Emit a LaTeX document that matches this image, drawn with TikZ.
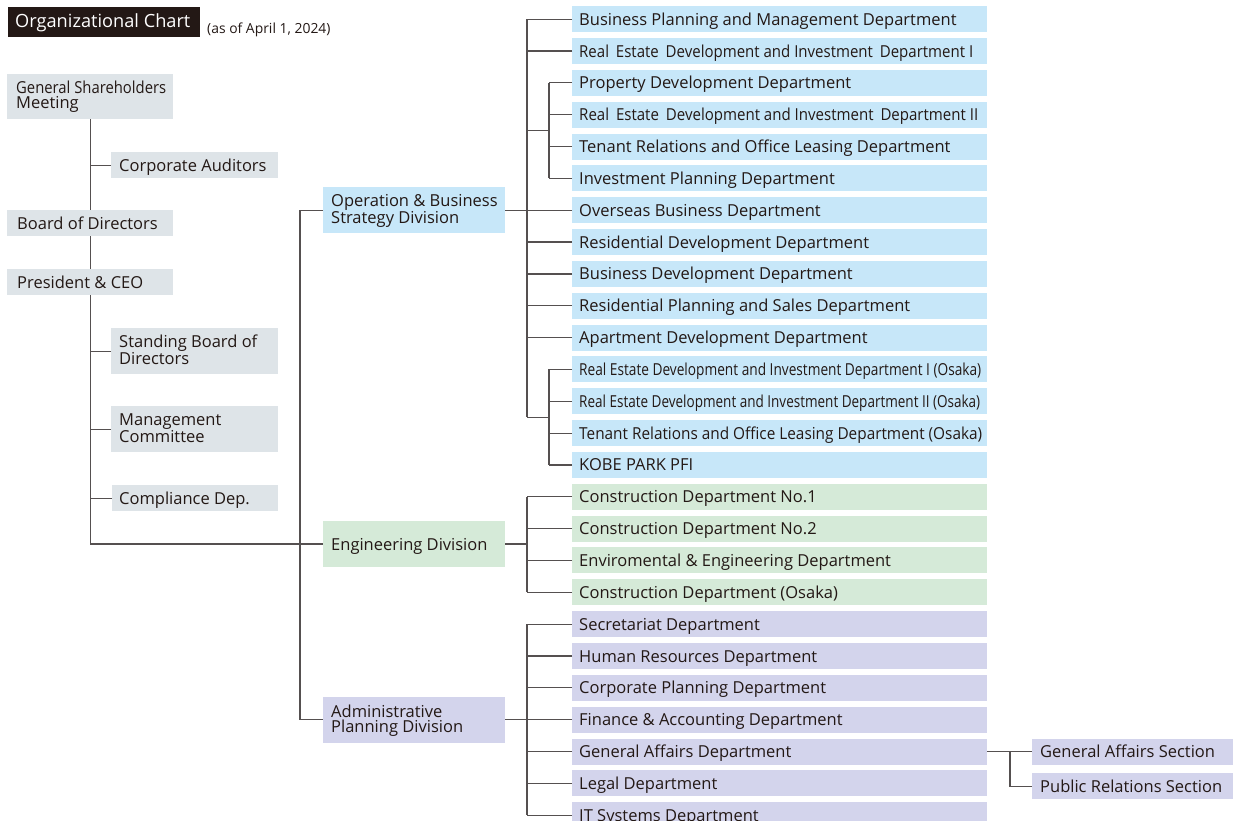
\documentclass[tikz,border=0pt]{standalone}
\usepackage{fontspec}
\setmainfont{Open Sans}
\usepackage{graphicx}
\usetikzlibrary{calc}
\definecolor{boxgray}{RGB}{222,228,232}
\definecolor{boxblue}{RGB}{199,231,249}
\definecolor{boxgreen}{RGB}{213,234,216}
\definecolor{boxpurple}{RGB}{211,212,236}
\definecolor{inkdark}{RGB}{35,24,21}
\definecolor{linegray}{RGB}{85,80,80}
\begin{document}
\begin{tikzpicture}[x=1pt,y=-1pt,
  boxbase/.style={anchor=north west, inner sep=0pt, draw=none, minimum height=26pt},
  graybox/.style={boxbase, fill=boxgray},
  bluebox/.style={boxbase, fill=boxblue},
  greenbox/.style={boxbase, fill=boxgreen},
  purplebox/.style={boxbase, fill=boxpurple},
  rowbox/.style={minimum width=415pt},
  lbl/.style={anchor=base west, inner sep=0pt, align=left, text=inkdark, font=\fontsize{16.5}{15.5}\selectfont},
  conn/.style={draw=linegray, line width=1.2pt},
]
\useasboundingbox (0,0) rectangle (1239,821);

% title
\node[boxbase, fill=inkdark, minimum width=192pt, minimum height=30pt] (title) at (8,7) {};
\node[lbl, text=white, font=\fontsize{18.2}{18}\selectfont] (titlet) at (15,27.5) {Organizational Chart};
\node[lbl, font=\fontsize{13.9}{14}\selectfont] (date) at (207,34) {(as of April 1, 2024)};

% left column
\node[graybox, minimum width=166pt, minimum height=45pt] (gsm) at (7,74) {};
\node[lbl] (gsmt) at ($(gsm.west)+(9,12)$) {\resizebox{150pt}{\height}{General Shareholders}\\Meeting};
\node[graybox, minimum width=167pt] (ca) at (111,152) {};
\node[lbl] (cat) at ($(ca.west)+(8,6)$) {Corporate Auditors};
\node[graybox, minimum width=166pt] (bod) at (7,210) {};
\node[lbl] (bodt) at ($(bod.west)+(10,6)$) {Board of Directors};
\node[graybox, minimum width=166pt] (pres) at (7,269) {};
\node[lbl] (prest) at ($(pres.west)+(10,6)$) {President \& CEO};
\node[graybox, minimum width=167pt, minimum height=46pt] (sbd) at (111,328) {};
\node[lbl] (sbdt) at ($(sbd.west)+(8,13)$) {Standing Board of\\Directors};
\node[graybox, minimum width=167pt, minimum height=46pt] (mc) at (111,406) {};
\node[lbl] (mct) at ($(mc.west)+(8,13)$) {Management\\Committee};
\node[graybox, minimum width=166pt] (cd) at (112,485) {};
\node[lbl] (cdt) at ($(cd.west)+(7,6)$) {Compliance Dep.};

% right column rows
\foreach \t [count=\i from 0] in {
  Business Planning and Management Department,
  {\resizebox{394pt}{\height}{Real\hspace{0.2em} Estate\hspace{0.2em} Development and Investment\hspace{0.2em} Department I}},
  Property Development Department,
  {\resizebox{399pt}{\height}{Real\hspace{0.2em} Estate\hspace{0.2em} Development and Investment\hspace{0.2em} Department II}},
  Tenant Relations and Office Leasing Department,
  Investment Planning Department,
  Overseas Business Department,
  Residential Development Department,
  Business Development Department,
  Residential Planning and Sales Department,
  Apartment Development Department,
  {\resizebox{402pt}{\height}{Real Estate Development and Investment Department I (Osaka)}},
  {\resizebox{401pt}{\height}{Real Estate Development and Investment Department II (Osaka)}},
  {\resizebox{403pt}{\height}{Tenant Relations and Office Leasing Department (Osaka)}},
  KOBE PARK PFI}
{
  \node[bluebox, rowbox] (r\i) at (572,{6+\i*31.84}) {};
  \node[lbl] (r\i t) at ($(r\i.west)+(7,6)$) {\t};
}
\foreach \t [count=\i from 15] in {
  Construction Department No.1,
  Construction Department No.2,
  Enviromental \& Engineering Department,
  Construction Department (Osaka)}
{
  \node[greenbox, rowbox] (r\i) at (572,{6+\i*31.84}) {};
  \node[lbl] (r\i t) at ($(r\i.west)+(7,6)$) {\t};
}
\foreach \t [count=\i from 19] in {
  Secretariat Department,
  Human Resources Department,
  Corporate Planning Department,
  Finance \& Accounting Department,
  General Affairs Department,
  Legal Department,
  IT Systems Department}
{
  \node[purplebox, rowbox] (r\i) at (572,{6+\i*31.84}) {};
  \node[lbl] (r\i t) at ($(r\i.west)+(7,6)$) {\t};
}

% divisions
\coordinate (dx) at (323,0);
\node[bluebox, anchor=west, minimum width=182pt, minimum height=46pt] (op) at (r6.west -| dx) {};
\node[lbl] (opt) at ($(op.west)+(8,13)$) {Operation \& Business\\Strategy Division};
\node[greenbox, anchor=west, minimum width=182pt, minimum height=46pt] (eng) at (323,544) {};
\node[lbl] (engt) at ($(eng.west)+(8,6)$) {Engineering Division};
\node[purplebox, anchor=west, minimum width=182pt, minimum height=46pt] (adm) at (r22.west -| dx) {};
\node[lbl] (admt) at ($(adm.west)+(8,13)$) {Administrative\\Planning Division};

% sections
\coordinate (gx) at (1032,0);
\node[purplebox, anchor=west, minimum width=201pt] (gas) at (r23.west -| gx) {};
\node[lbl] (gast) at ($(gas.west)+(8,6)$) {General Affairs Section};
\node[purplebox, minimum width=201pt] (prs) at (1032,773) {};
\node[lbl] (prst) at ($(prs.west)+(8,6)$) {Public Relations Section};

% connectors
\coordinate (tk) at (527,0);
\coordinate (sk) at (549,0);
\coordinate (dk) at (300,0);
\coordinate (sx) at (1010,0);
\coordinate (j1) at ($(r2.west)!0.5!(r5.west)$);
\coordinate (j2) at ($(r11.west)!0.5!(r14.west)$);

\draw[conn] (gsm.south) -- (bod.north);
\draw[conn] (bod.south) -- (pres.north);
\draw[conn] (pres.south) -- (pres.south |- eng.west) -- (eng.west);
\foreach \n in {ca,sbd,mc,cd} \draw[conn] (\n.west) -- (\n.west -| gsm.south);

\draw[conn] (op.west) -- (op.west -| dk) -- (adm.west -| dk) -- (adm.west);

\foreach \i in {0,1,6,7,8,9,10} \draw[conn] (r\i.west) -- (r\i.west -| tk);
\draw[conn] (r0.west -| tk) -- (j2 -| tk);
\foreach \i in {2,3,4,5,11,12,13,14} \draw[conn] (r\i.west) -- (r\i.west -| sk);
\draw[conn] (r2.west -| sk) -- (r5.west -| sk);
\draw[conn] (r11.west -| sk) -- (r14.west -| sk);
\draw[conn] (j1 -| sk) -- (j1 -| tk);
\draw[conn] (j2 -| sk) -- (j2 -| tk);
\draw[conn] (op.east) -- (op.east -| tk);

\foreach \i in {15,...,18} \draw[conn] (r\i.west) -- (r\i.west -| tk);
\draw[conn] (r15.west -| tk) -- (r18.west -| tk);
\draw[conn] (eng.east) -- (eng.east -| tk);

\foreach \i in {19,...,25} \draw[conn] (r\i.west) -- (r\i.west -| tk);
\draw[conn] (r19.west -| tk) -- (r25.west -| tk);
\draw[conn] (adm.east) -- (adm.east -| tk);

\draw[conn] (r23.east) -- (gas.west);
\draw[conn] (r23.east -| sx) -- (prs.west -| sx) -- (prs.west);
\end{tikzpicture}
\end{document}
